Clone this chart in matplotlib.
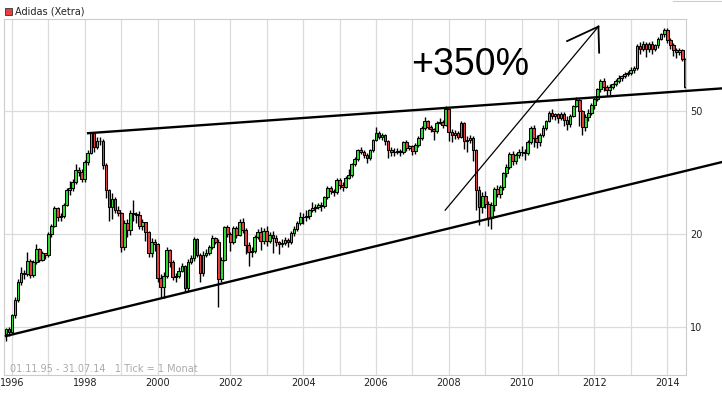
import numpy as np
import pandas as pd
import matplotlib
matplotlib.use("Agg")
import matplotlib.pyplot as plt
from matplotlib.lines import Line2D
from matplotlib.patches import Rectangle

title = "Adidas (Xetra)"
footnote = "01.11.95 - 31.07.14   1 Tick = 1 Monat"
label_years = [1996, 1998, 2000, 2002, 2004, 2006, 2008, 2010, 2012, 2014]
grid_years = list(range(1996, 2015))
y_ticks = [10, 20, 50]

first_open = 9.5
# monthly closes, Nov 1995 .. Jul 2014
closes = [
    9.8, 9.6,
    10.9, 12.2, 14.0, 14.9, 14.8, 16.4, 14.7, 16.2, 17.9, 16.5, 17.3, 17.1,
    20.0, 21.2, 24.3, 22.7, 22.8, 24.8, 27.8, 28.2, 29.4, 32.2, 31.9, 30.2,
    34.2, 36.7, 42.5, 38.3, 40.0, 40.2, 33.5, 27.8, 24.5, 25.9, 24.0, 23.4,
    18.1, 21.7, 20.6, 23.4, 23.3, 23.0, 21.2, 21.8, 20.3, 17.4, 18.8, 18.5,
    14.4, 13.5, 14.6, 17.7, 16.2, 14.5, 14.6, 15.2, 15.7, 13.4, 16.2, 16.7,
    19.2, 17.1, 14.9, 17.1, 17.4, 18.1, 19.4, 18.9, 14.3, 16.5, 21.0, 20.0,
    18.8, 20.9, 19.9, 21.9, 20.6, 18.4, 17.5, 17.6, 19.5, 20.3, 19.0, 20.5,
    19.0, 19.9, 19.4, 18.8, 18.6, 18.7, 19.1, 18.8, 20.1, 20.8, 21.7, 22.7,
    22.7, 22.8, 23.9, 24.3, 24.5, 24.8, 24.6, 26.3, 28.2, 27.5, 27.3, 29.9,
    28.9, 28.5, 30.5, 31.0, 33.7, 35.0, 37.4, 37.0, 36.0, 35.2, 37.4, 40.4,
    42.7, 41.3, 42.0, 40.0, 37.6, 37.0, 37.0, 37.3, 36.8, 39.8, 38.0, 38.5,
    37.1, 39.0, 41.0, 44.2, 46.5, 44.6, 43.7, 43.3, 46.0, 46.3, 45.3, 51.0,
    42.8, 41.8, 42.5, 41.4, 45.8, 40.0, 40.3, 41.0, 37.5, 27.8, 24.5, 26.5,
    25.0, 22.5, 24.8, 28.0, 27.0, 28.5, 31.5, 33.0, 36.5, 34.5, 36.0, 37.0,
    36.8, 36.6, 39.7, 44.2, 41.0, 39.7, 41.9, 44.2, 46.5, 49.5, 48.5, 49.0,
    47.5, 49.0, 47.0, 45.5, 48.5, 52.0, 54.5, 50.0, 44.5, 48.0, 49.5, 52.5,
    55.0, 59.0, 63.0, 60.0, 58.5, 60.0, 61.5, 63.0, 64.0, 65.0, 66.0, 66.7,
    68.0, 69.0, 81.5, 80.0, 83.0, 80.0, 83.0, 80.0, 82.0, 86.0, 89.0, 92.0,
    85.0, 82.0, 79.0, 78.0, 79.0, 74.0, 60.0,
]
highs = [
    9.9, 10.0,
    11.0, 12.5, 14.3, 15.6, 15.3, 17.5, 16.6, 16.5, 18.5, 18.0, 17.6, 17.4,
    20.3, 21.6, 24.6, 24.5, 23.4, 25.3, 28.3, 29.7, 30.1, 33.8, 33.0, 32.5,
    34.8, 37.4, 42.8, 42.0, 41.2, 41.4, 40.6, 33.9, 28.0, 27.2, 26.3, 24.6,
    23.6, 22.2, 22.3, 23.9, 25.7, 23.6, 23.8, 22.4, 21.9, 20.5, 19.4, 19.3,
    18.7, 14.8, 15.0, 18.2, 17.9, 16.5, 14.9, 15.6, 16.1, 15.9, 16.6, 17.1,
    19.6, 19.4, 17.3, 17.6, 17.9, 18.4, 19.8, 19.6, 19.3, 16.9, 21.3, 21.4,
    20.3, 21.3, 21.2, 22.4, 22.6, 20.9, 18.9, 18.1, 19.9, 20.8, 21.0, 20.9,
    21.2, 20.3, 20.4, 19.9, 19.0, 19.2, 19.5, 19.4, 20.4, 21.2, 22.0, 23.5,
    23.4, 23.9, 24.2, 25.5, 25.0, 25.3, 25.4, 26.6, 28.6, 28.6, 28.0, 30.5,
    30.4, 29.6, 30.8, 32.4, 34.0, 35.6, 37.8, 38.3, 37.5, 36.6, 37.7, 40.7,
    44.5, 43.3, 42.6, 42.3, 40.4, 38.4, 38.0, 38.0, 37.9, 40.2, 40.3, 39.0,
    38.8, 39.4, 41.5, 44.7, 47.8, 47.0, 45.3, 44.2, 46.6, 47.5, 46.8, 52.0,
    51.0, 43.8, 43.4, 43.2, 46.4, 46.2, 41.5, 42.0, 41.6, 37.8, 28.6, 27.3,
    27.6, 25.6, 25.4, 28.4, 28.8, 28.9, 31.9, 33.7, 37.0, 37.2, 36.6, 37.8,
    38.6, 37.9, 40.3, 44.8, 45.2, 42.0, 42.6, 45.1, 47.0, 50.2, 51.0, 49.6,
    49.6, 49.7, 49.9, 48.2, 49.2, 52.6, 55.6, 55.0, 50.7, 49.1, 51.0, 53.2,
    55.8, 59.5, 63.8, 64.0, 61.0, 61.5, 62.0, 63.8, 65.6, 65.9, 67.2, 67.5,
    69.5, 70.0, 82.5, 84.0, 84.5, 84.2, 83.8, 84.5, 83.0, 87.0, 89.8, 93.5,
    93.0, 86.5, 83.2, 80.5, 80.2, 79.8, 74.8,
]
lows = [
    9.0, 9.3,
    9.5, 10.7, 12.0, 13.7, 14.3, 14.6, 14.4, 14.5, 16.0, 16.2, 16.3, 16.6,
    16.8, 19.6, 21.0, 22.1, 22.0, 22.5, 24.6, 26.8, 27.6, 29.1, 30.8, 29.4,
    29.6, 33.5, 36.3, 37.0, 37.8, 39.0, 32.4, 26.2, 22.0, 22.3, 23.4, 22.8,
    17.5, 17.8, 19.5, 19.8, 22.0, 21.7, 20.8, 20.6, 19.0, 16.8, 16.9, 17.6,
    14.0, 12.4, 12.4, 14.4, 15.6, 14.2, 14.0, 14.4, 15.1, 13.0, 13.1, 16.0,
    16.4, 16.8, 14.0, 14.6, 16.8, 17.1, 17.9, 18.6, 11.6, 14.0, 16.3, 19.6,
    17.6, 18.5, 19.4, 19.7, 20.2, 17.2, 15.8, 16.9, 17.3, 19.2, 17.7, 18.6,
    18.3, 18.7, 17.3, 18.3, 17.2, 18.2, 18.4, 18.2, 18.6, 19.7, 20.5, 21.4,
    21.6, 22.0, 22.3, 23.5, 23.6, 24.1, 23.8, 24.3, 26.0, 26.9, 26.6, 27.0,
    28.0, 27.6, 28.2, 30.2, 30.7, 33.3, 34.6, 36.3, 35.2, 33.9, 34.7, 37.0,
    40.0, 40.6, 40.5, 38.8, 35.3, 35.8, 35.8, 36.3, 35.9, 36.4, 37.3, 37.6,
    36.2, 36.4, 38.2, 40.5, 43.6, 44.0, 42.9, 40.4, 42.7, 45.4, 44.2, 44.8,
    40.0, 39.9, 40.6, 40.6, 41.0, 37.7, 36.8, 39.5, 34.5, 24.0, 21.4, 23.4,
    24.3, 21.3, 20.8, 23.8, 26.3, 26.2, 27.7, 30.6, 32.4, 33.6, 33.8, 35.3,
    35.9, 34.8, 36.0, 39.3, 38.4, 38.0, 38.6, 41.3, 43.5, 46.1, 47.1, 47.0,
    45.9, 46.8, 44.9, 43.4, 44.6, 47.8, 51.5, 45.0, 41.8, 43.2, 46.4, 48.6,
    51.0, 54.2, 57.8, 58.4, 56.0, 56.7, 59.0, 60.4, 61.7, 62.6, 64.2, 65.0,
    65.8, 66.5, 68.3, 77.0, 78.5, 75.0, 78.2, 76.6, 78.5, 80.5, 85.0, 87.3,
    83.5, 80.0, 75.6, 74.5, 76.0, 72.8, 59.4,
]

# hand drawn lines (year, price)
upper_trend_x = [1998.09, 2015.50]
upper_trend_y = [42.5, 59.4]
lower_trend_x = [1995.835, 2015.505]
lower_trend_y = [9.33, 34.25]
arrow_x = [2007.90, 2012.11]
arrow_y = [23.9, 94.3]
barb1_x = [2011.25, 2012.11]
barb1_y = [84.6, 94.3]
barb2_x = [2012.13, 2012.11]
barb2_y = [77.6, 94.3]

months = pd.date_range("1995-11-01", periods=len(closes), freq="MS")
t = np.array(months.year + (months.month - 1) / 12.0)
c = np.array(closes)
o = np.array([first_open] + closes[:-1])
hi = np.maximum(np.array(highs), np.maximum(o, c))
lo = np.minimum(np.array(lows), np.minimum(o, c))

fig = plt.figure(figsize=(7.22, 3.95), dpi=100)
ax = fig.add_axes([4 / 722, 20 / 395, 682 / 722, 356 / 395])

ax.set_yscale("log")
ax.set_xlim(1995.78, 2014.516)
ax.set_ylim(6.97, 99.8)

for yr in grid_years:
    ax.axvline(yr, color="#dcdcdc", lw=0.9, zorder=0)
for v in y_ticks:
    ax.axhline(v, color="#dcdcdc", lw=0.9, zorder=0)

ax.vlines(t, lo, hi, color="black", lw=1.0, zorder=2)
up = c >= o
cols = np.where(up, "#33dd33", "#e84040")
ax.bar(t, np.abs(c - o), bottom=np.minimum(o, c), width=0.074,
       color=cols, edgecolor="black", linewidth=0.75, zorder=3)

ax.plot(upper_trend_x, upper_trend_y, color="black", lw=1.7, clip_on=False, zorder=4)
ax.plot(lower_trend_x, lower_trend_y, color="black", lw=1.7, clip_on=False, zorder=4)
ax.plot(arrow_x, arrow_y, color="black", lw=0.9, clip_on=False, zorder=4)
ax.plot(barb1_x, barb1_y, color="black", lw=1.3, clip_on=False, zorder=4)
ax.plot(barb2_x, barb2_y, color="black", lw=1.3, clip_on=False, zorder=4)

ax.yaxis.tick_right()
ax.set_yticks(y_ticks)
ax.set_yticklabels([str(v) for v in y_ticks])
ax.yaxis.set_minor_locator(matplotlib.ticker.NullLocator())
ax.set_xticks(label_years)
ax.set_xticklabels([str(y) for y in label_years])
ax.tick_params(axis="both", length=0, labelsize=7, labelcolor="#222222")
ax.tick_params(axis="y", pad=3)
ax.tick_params(axis="x", pad=2.5)
for s in ax.spines.values():
    s.set_color("#cccccc")
    s.set_linewidth(0.8)

ax.text(6 / 682, 6 / 356, footnote, transform=ax.transAxes, fontsize=7,
        color="#aaaaaa", va="center", ha="left")

fig.text(411 / 722, (395 - 75) / 395, "+350%", fontsize=27,
         family="Liberation Sans", va="baseline", ha="left", color="black")

fig.add_artist(Rectangle((5 / 722, (395 - 15) / 395), 7 / 722, 7 / 395,
                         facecolor="#e84040", edgecolor="#333333", lw=0.6,
                         transform=fig.transFigure))
fig.text(15 / 722, (395 - 11) / 395, title, fontsize=7, va="center",
         ha="left", color="#222222")
fig.add_artist(Line2D([673 / 722, 1.0], [394.5 / 395, 394.5 / 395],
                      color="#cccccc", lw=0.8, transform=fig.transFigure))

fig.savefig("out.png", dpi=100)
